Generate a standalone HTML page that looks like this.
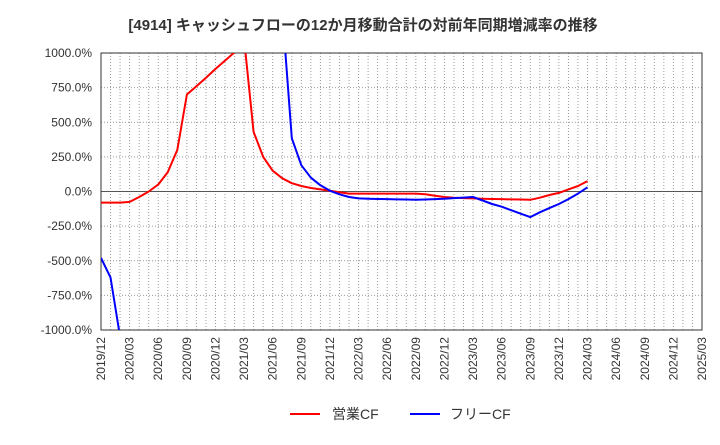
<!DOCTYPE html>
<html><head><meta charset="utf-8"><style>
body{margin:0;background:#fff;font-family:"Liberation Sans","Noto Sans CJK JP",sans-serif;}
svg text{font-family:"Liberation Sans","Noto Sans CJK JP",sans-serif;}
</style></head><body>
<svg id="chart" width="720" height="440" xmlns="http://www.w3.org/2000/svg">
<text x="363" y="30" text-anchor="middle" font-size="15" font-weight="bold" fill="#333">[4914]  キャッシュフローの12か月移動合計の対前年同期増減率の推移</text>
<g id="grid"></g><g id="axes"></g>
<defs><clipPath id="clip"><rect x="101" y="53" width="601" height="277"/></clipPath></defs>
<g id="series" clip-path="url(#clip)"></g>
<g>
<line x1="290" y1="414" x2="320" y2="414" stroke="#f00" stroke-width="2"/>
<text x="332" y="419" font-size="14" fill="#333">営業CF</text>
<line x1="410" y1="414" x2="440" y2="414" stroke="#00f" stroke-width="2"/>
<text x="450" y="419" font-size="14" fill="#333">フリーCF</text>
</g>
</svg>
<script>
const xLabels=["2019/12","2020/03","2020/06","2020/09","2020/12","2021/03","2021/06","2021/09","2021/12","2022/03","2022/06","2022/09","2022/12","2023/03","2023/06","2023/09","2023/12","2024/03","2024/06","2024/09","2024/12","2025/03"];
const yTicks=[-1000,-750,-500,-250,0,250,500,750,1000];
const opCF=[-80,-80,-80,-75,-40,0,50,140,300,700,760,820,885,945,1005,1100,430,250,150,95,60,40,25,15,5,-5,-15,-15,-15,-15,-15,-15,-15,-15,-20,-30,-40,-45,-48,-50,-52,-54,-55,-57,-58,-60,-45,-25,-10,15,40,75];
const freeCF=[-480,-620,-1050,null,null,null,null,null,null,null,null,null,null,null,null,null,null,null,null,1300,385,190,100,45,5,-20,-40,-50,-52,-54,-55,-57,-58,-60,-58,-55,-52,-48,-44,-40,-65,-90,-110,-135,-160,-185,-150,-120,-90,-55,-15,30];
const X0=101,X1=702,Y0=53,Y1=330;
const xm=m=>X0+m*(X1-X0)/63;
const yv=v=>Y0+(1000-v)*(Y1-Y0)/2000;
const NS="http://www.w3.org/2000/svg";
const grid=document.getElementById('grid'),axes=document.getElementById('axes'),ser=document.getElementById('series');
function mk(tag,attrs,parent){const e=document.createElementNS(NS,tag);for(const k in attrs)e.setAttribute(k,attrs[k]);parent.appendChild(e);return e;}
for(let m=1;m<63;m++){const l=mk('line',{x1:xm(m),x2:xm(m),y1:Y0,y2:Y1,stroke:'#999','stroke-dasharray':'1,2','stroke-width':1},grid);

}
yTicks.forEach(v=>{const y=yv(v);
const l=mk('line',{x1:X0,x2:X1,y1:y,y2:y,stroke:v===0?'#555':'#999','stroke-dasharray':v===0?'':'1,2','stroke-width':1},grid);


const t=mk('text',{x:92,y:y+4,'text-anchor':'end','font-size':12,fill:'#333'},axes);t.textContent=v.toFixed(1)+'%';

});
const r=mk('rect',{x:X0,y:Y0,width:X1-X0,height:Y1-Y0,fill:'none',stroke:'#333','stroke-width':1},axes);


xLabels.forEach((s,i)=>{const x=xm(i*3);const t=mk('text',{x:0,y:0,'text-anchor':'end','font-size':12,fill:'#333',transform:`translate(${x+4},337) rotate(-90)`},axes);t.textContent=s;

});
function draw(data,color,name){let d='',pen=false;data.forEach((v,i)=>{if(v===null){pen=false;return;}d+=(pen?'L':'M')+xm(i).toFixed(1)+','+yv(v).toFixed(1);pen=true;});
const p=mk('path',{d:d,fill:'none',stroke:color,'stroke-width':2,'stroke-linejoin':'round'},ser);

}
draw(opCF,'#f00','operating-cf-line');
draw(freeCF,'#00f','free-cf-line');
</script>
</body></html>
